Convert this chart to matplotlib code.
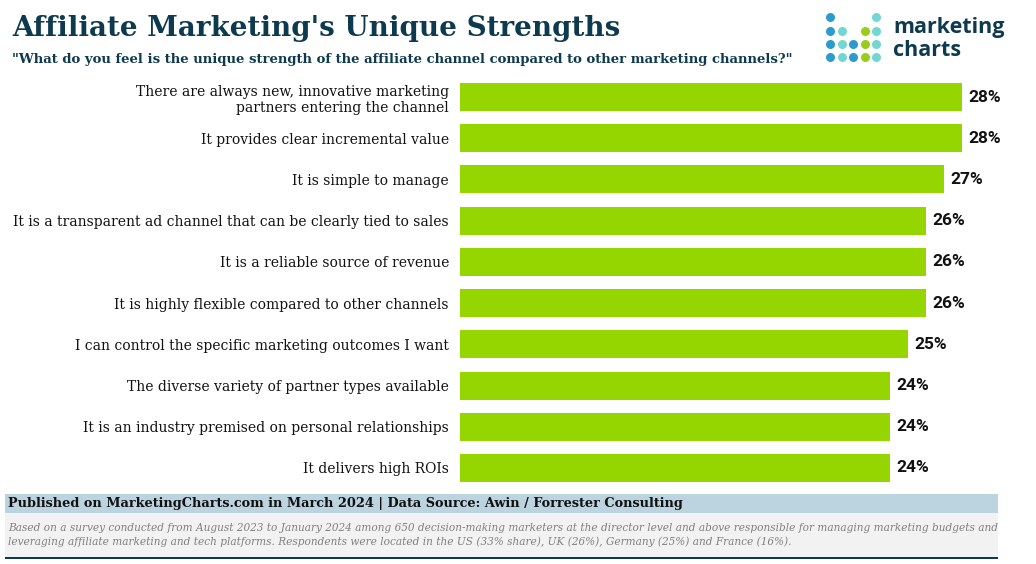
import matplotlib.pyplot as plt
from matplotlib.patches import Rectangle

categories = [
    "There are always new, innovative marketing\npartners entering the channel",
    "It provides clear incremental value",
    "It is simple to manage",
    "It is a transparent ad channel that can be clearly tied to sales",
    "It is a reliable source of revenue",
    "It is highly flexible compared to other channels",
    "I can control the specific marketing outcomes I want",
    "The diverse variety of partner types available",
    "It is an industry premised on personal relationships",
    "It delivers high ROIs",
]
values = [28, 28, 27, 26, 26, 26, 25, 24, 24, 24]

title = "Affiliate Marketing's Unique Strengths"
subtitle = ('"What do you feel is the unique strength of the affiliate channel '
            'compared to other marketing channels?"')
source = ("Published on MarketingCharts.com in March 2024 | "
          "Data Source: Awin / Forrester Consulting")
note = ("Based on a survey conducted from August 2023 to January 2024 among 650 "
        "decision-making marketers at the director level and above responsible for "
        "managing marketing budgets and\nleveraging affiliate marketing and tech "
        "platforms. Respondents were located in the US (33% share), UK (26%), "
        "Germany (25%) and France (16%).")

W, H = 1036, 564
NAVY = "#0e3a4f"
GREEN = "#95d600"
SERIF = "DejaVu Serif"

fig = plt.figure(figsize=(W / 100, H / 100), dpi=100)


def fx(px):
    return px / W


def fy(py):
    return 1 - py / H


# main bars
ax = fig.add_axes([fx(460), fy(488.6), fx(998) - fx(460), fy(76.4) - fy(488.6)])
ypos = list(range(len(categories)))
ax.barh(ypos, values, height=0.68, color=GREEN)
ax.set_xlim(0, 30)
ax.set_ylim(len(categories) - 0.5, -0.5)
ax.set_yticks(ypos)
ax.set_yticklabels(categories, family=SERIF, fontsize=10.0, color="#111111")
ax.tick_params(axis="y", length=0, pad=8)
ax.set_xticks([])
for s in ax.spines.values():
    s.set_visible(False)
for y, v in zip(ypos, values):
    ax.text(v + 0.35, y, f"{v}%", va="center", ha="left", fontsize=12.5,
            fontweight="bold", family="Roboto", color="#111111")

# title block
fig.text(fx(12), fy(28), title, family=SERIF, fontweight="bold", fontsize=20,
         color=NAVY, va="center", ha="left")
fig.text(fx(12), fy(60), subtitle, family=SERIF, fontweight="bold", fontsize=9.55,
         color=NAVY, va="center", ha="left")

# logo
dot_cols = [830, 842, 853, 865, 876]
dot_rows = [17, 31, 44, 57]
BLUE, TEAL, LIME = "#2a9bcc", "#72d6d3", "#99cc1a"
logo = [
    (0, [0, 1, 2, 3], BLUE),
    (1, [1, 2, 3], TEAL),
    (2, [2, 3], BLUE),
    (3, [1, 2, 3], LIME),
    (4, [0, 1, 2, 3], TEAL),
]
lax = fig.add_axes([0, 0, 1, 1], zorder=-1)
lax.set_xlim(0, W)
lax.set_ylim(H, 0)
lax.axis("off")
for c, rows, col in logo:
    for r in rows:
        lax.scatter(dot_cols[c], dot_rows[r], s=42, color=col, linewidths=0)
fig.text(fx(893), fy(27), "marketing", family="Open Sans", fontweight="bold",
         fontsize=15.5, color=NAVY, va="center", ha="left")
fig.text(fx(893), fy(50), "charts", family="Open Sans", fontweight="bold",
         fontsize=15.5, color=NAVY, va="center", ha="left")

# footer
lax.add_patch(Rectangle((5, 494), 993, 19, color="#bcd3e0", lw=0))
lax.add_patch(Rectangle((5, 513), 993, 44, color="#f2f2f2", lw=0))
lax.add_patch(Rectangle((5, 557), 993, 2, color=NAVY, lw=0))
fig.text(fx(8), fy(504), source, family=SERIF, fontweight="bold", fontsize=9.3,
         color="#111111", va="center", ha="left")
fig.text(fx(8), fy(535), note, family=SERIF, style="italic", fontsize=7.6,
         color="#808080", va="center", ha="left", linespacing=1.45)

fig.savefig("out.png", dpi=100)
